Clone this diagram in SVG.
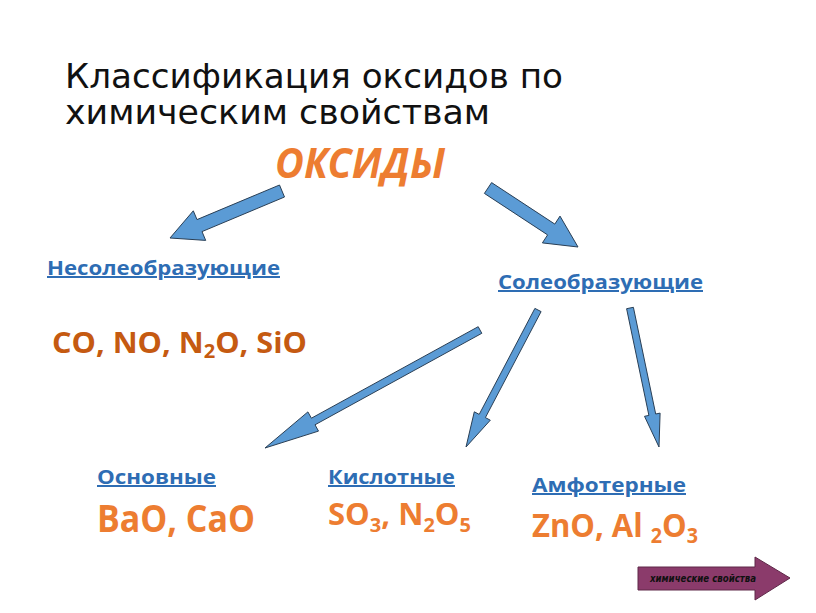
<svg xmlns="http://www.w3.org/2000/svg" width="816" height="613" viewBox="0 0 816 613">
<style>
.title{font-family:"DejaVu Sans","Liberation Sans",sans-serif;font-size:34px;fill:#111}
.cat{font-family:"Open Sans","Liberation Sans",sans-serif;font-weight:bold;font-size:20px;fill:#2E6DB4;text-decoration:underline}
.f{font-family:"Open Sans","Liberation Sans",sans-serif;font-weight:bold;fill:#ED7D31}
.arr{fill:#5B9BD5;stroke:#2A3F55;stroke-width:1}
</style>
<rect width="816" height="613" fill="#fff"/>
<g id="title">
<text class="title" x="65" y="88" textLength="498" lengthAdjust="spacingAndGlyphs">Классификация оксидов по</text>
<text class="title" x="65" y="124" textLength="425" lengthAdjust="spacingAndGlyphs">химическим свойствам</text>
</g>
<g id="oxides"><text x="275" y="178" font-family="Open Sans, Liberation Sans, sans-serif" font-weight="bold" font-style="italic" font-size="41" fill="#ED7D31" textLength="170" lengthAdjust="spacingAndGlyphs">ОКСИДЫ</text></g>
<g id="connectors">
<polygon class="arr" points="279.5,185 197,219.6 193.3,210.8 170,238 205.7,240.4 202,231.6 284.5,197"/>
<polygon class="arr" points="491.6,182.6 554.8,224.1 560,216.1 578,247 542.4,242.9 547.6,234.9 484.4,193.4"/>
<polygon class="arr" points="478.2,326.7 311.4,418.2 307.9,411.9 265,448 318.5,431.1 315,424.8 481.8,333.3"/>
<polygon class="arr" points="534.9,308.4 479.2,414.4 474.3,411.8 466,447 490.3,420.2 485.4,417.6 541.1,311.6"/>
<polygon class="arr" points="633.4,307.3 655.7,414 660.1,413.1 659,447 644.5,416.3 648.9,415.4 626.6,308.7"/>
</g>
<g id="nonsalt">
<text class="cat" x="47" y="275" textLength="233" lengthAdjust="spacingAndGlyphs">Несолеобразующие</text>
<text class="f" x="52" y="353" font-size="29" style="fill:#C55A11" textLength="255" lengthAdjust="spacingAndGlyphs">CO, NO, N<tspan font-size="19" dy="5">2</tspan><tspan dy="-5">O, SiO</tspan></text>
</g>
<g id="salt"><text class="cat" x="498" y="289" textLength="205" lengthAdjust="spacingAndGlyphs">Солеобразующие</text></g>
<g id="basic">
<text class="cat" x="97" y="484" textLength="119" lengthAdjust="spacingAndGlyphs">Основные</text>
<text class="f" x="97" y="532" font-size="38" textLength="158" lengthAdjust="spacingAndGlyphs">BaO, CaO</text>
</g>
<g id="acidic">
<text class="cat" x="328" y="484" textLength="127" lengthAdjust="spacingAndGlyphs">Кислотные</text>
<text class="f" x="328" y="525" font-size="31" textLength="143" lengthAdjust="spacingAndGlyphs">SO<tspan font-size="20" dy="7">3</tspan><tspan dy="-7">, N</tspan><tspan font-size="20" dy="7">2</tspan><tspan dy="-7">O</tspan><tspan font-size="20" dy="7">5</tspan></text>
</g>
<g id="amphoteric">
<text class="cat" x="532" y="492" textLength="154" lengthAdjust="spacingAndGlyphs">Амфотерные</text>
<text class="f" x="532" y="537" font-size="33" textLength="166" lengthAdjust="spacingAndGlyphs">ZnO, Al <tspan font-size="21" dy="6">2</tspan><tspan dy="-6">O</tspan><tspan font-size="21" dy="6">3</tspan></text>
</g>
<g id="nav">
<polygon points="638,567 755,567 755,557 790,578 755,600 755,590 638,590" fill="#8B3B6B" stroke="#5E2848" stroke-width="1"/>
<text x="650" y="582" font-family="DejaVu Sans, Liberation Sans, sans-serif" font-style="italic" font-weight="bold" font-size="10" fill="#111" textLength="106" lengthAdjust="spacingAndGlyphs">химические свойства</text>
</g>
</svg>
